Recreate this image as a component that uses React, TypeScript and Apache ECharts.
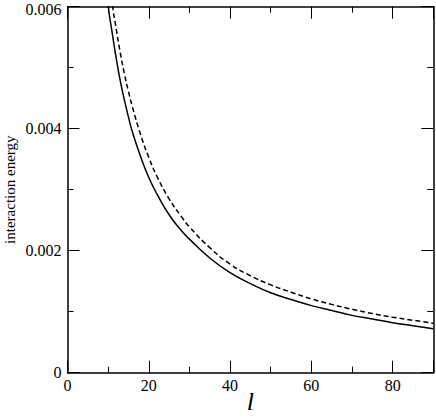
import React, { useEffect, useRef } from "react";
import * as echarts from "echarts";

const lValues = [9.5, 10, 11, 12, 13, 14, 15, 16, 18, 20, 22, 25, 28, 30, 35, 40, 45, 50, 55, 60, 65, 70, 75, 80, 85, 90];
const solidValues = [0.0066, 0.00603, 0.00557, 0.00515, 0.00478, 0.00447, 0.00419, 0.00394, 0.00354, 0.0032, 0.00293, 0.00259, 0.00233, 0.00219, 0.00188, 0.00164, 0.00146, 0.00131, 0.0012, 0.0011, 0.00102, 0.00094, 0.00088, 0.00082, 0.00077, 0.00072];
const dashedValues = [0.0072, 0.00675, 0.00606, 0.00563, 0.00524, 0.0049, 0.00461, 0.00435, 0.0039, 0.00353, 0.00322, 0.00285, 0.00256, 0.00239, 0.00205, 0.00178, 0.00159, 0.00144, 0.00132, 0.00121, 0.00112, 0.00104, 0.00097, 0.00091, 0.00086, 0.00081];
const xTickLabels = [0, 20, 40, 60, 80];
const yTickLabels = [0, 0.002, 0.004, 0.006];

const FONT = "'Liberation Serif', 'DejaVu Serif', serif";

export default function App() {
  const ref = useRef<HTMLDivElement>(null);
  useEffect(() => {
    if (!ref.current) return;
    const chart = echarts.init(ref.current, undefined, { renderer: "svg" });
    const baseX = (position: string, interval: number, len: number, show: boolean, idx: number) => ({
      type: "value",
      gridIndex: 0,
      position,
      min: 0,
      max: 90,
      interval,
      splitLine: { show: false },
      axisLine: { show: idx === 0 || idx === 2, onZero: false, lineStyle: { color: "#000", width: 1.5 } },
      axisTick: { show: true, inside: true, length: len, lineStyle: { color: "#000", width: 1 } },
      axisLabel: show
        ? {
            show: true,
            margin: 5,
            fontSize: 16,
            fontFamily: FONT,
            color: "#000",
            formatter: (v: number) => (xTickLabels.indexOf(v) >= 0 ? String(v) : ""),
          }
        : { show: false },
      ...(idx === 0
        ? {
            name: "l",
            nameLocation: "middle",
            nameGap: 16,
            nameMoveOverlap: false,
            nameTextStyle: { fontSize: 26, fontStyle: "italic", fontFamily: FONT, color: "#000" },
          }
        : {}),
    });
    const baseY = (position: string, show: boolean) => ({
      type: "value",
      position,
      min: 0,
      max: 0.006,
      interval: 0.002,
      splitLine: { show: false },
      axisLine: { show: true, onZero: false, lineStyle: { color: "#000", width: 1.5 } },
      axisTick: { show: true, inside: true, length: 12, lineStyle: { color: "#000", width: 1 } },
      minorTick: { show: true, splitNumber: 2, length: 6, lineStyle: { color: "#000", width: 1 } },
      axisLabel: show
        ? {
            show: true,
            margin: 6,
            fontSize: 16,
            fontFamily: FONT,
            color: "#000",
            formatter: (v: number) => {
              const i = yTickLabels.findIndex((t) => Math.abs(t - v) < 1e-9);
              if (i < 0) return "";
              const txt = yTickLabels[i] === 0 ? "0" : yTickLabels[i].toFixed(3);
              return i === yTickLabels.length - 1 ? "{top|" + txt + "}" : txt;
            },
            rich: {
              top: { fontSize: 16, fontFamily: FONT, color: "#000", padding: [6, 0, 0, 0] },
            },
          }
        : { show: false },
      ...(show
        ? {
            name: "interaction energy",
            nameLocation: "middle",
            nameGap: 50,
            nameMoveOverlap: false,
            nameTextStyle: { fontSize: 15, fontFamily: FONT, color: "#000" },
          }
        : {}),
    });
    chart.setOption({
      animation: false,
      backgroundColor: "#fff",
      textStyle: { fontFamily: FONT },
      grid: { left: 67.5, top: 6.7, right: 2.7, bottom: 44.3, containLabel: false, outerBoundsMode: "none" },
      xAxis: [
        baseX("bottom", 20, 12, true, 0),
        baseX("bottom", 10, 6, false, 1),
        baseX("top", 20, 12, false, 2),
        baseX("top", 10, 6, false, 3),
      ],
      yAxis: [baseY("left", true), baseY("right", false)],
      series: [
        {
          type: "line",
          xAxisIndex: 0,
          yAxisIndex: 0,
          data: lValues.map((l, i) => [l, solidValues[i]]),
          smooth: true,
          showSymbol: false,
          clip: true,
          lineStyle: { color: "#000", width: 1.5 },
        },
        {
          type: "line",
          xAxisIndex: 0,
          yAxisIndex: 0,
          data: lValues.map((l, i) => [l, dashedValues[i]]),
          smooth: true,
          showSymbol: false,
          clip: true,
          lineStyle: { color: "#000", width: 1.5, type: [5, 3] },
        },
      ],
    });
    return () => chart.dispose();
  }, []);
  return <div ref={ref} style={{ position: "fixed", left: 0, top: 0, width: 436, height: 417 }} />;
}
